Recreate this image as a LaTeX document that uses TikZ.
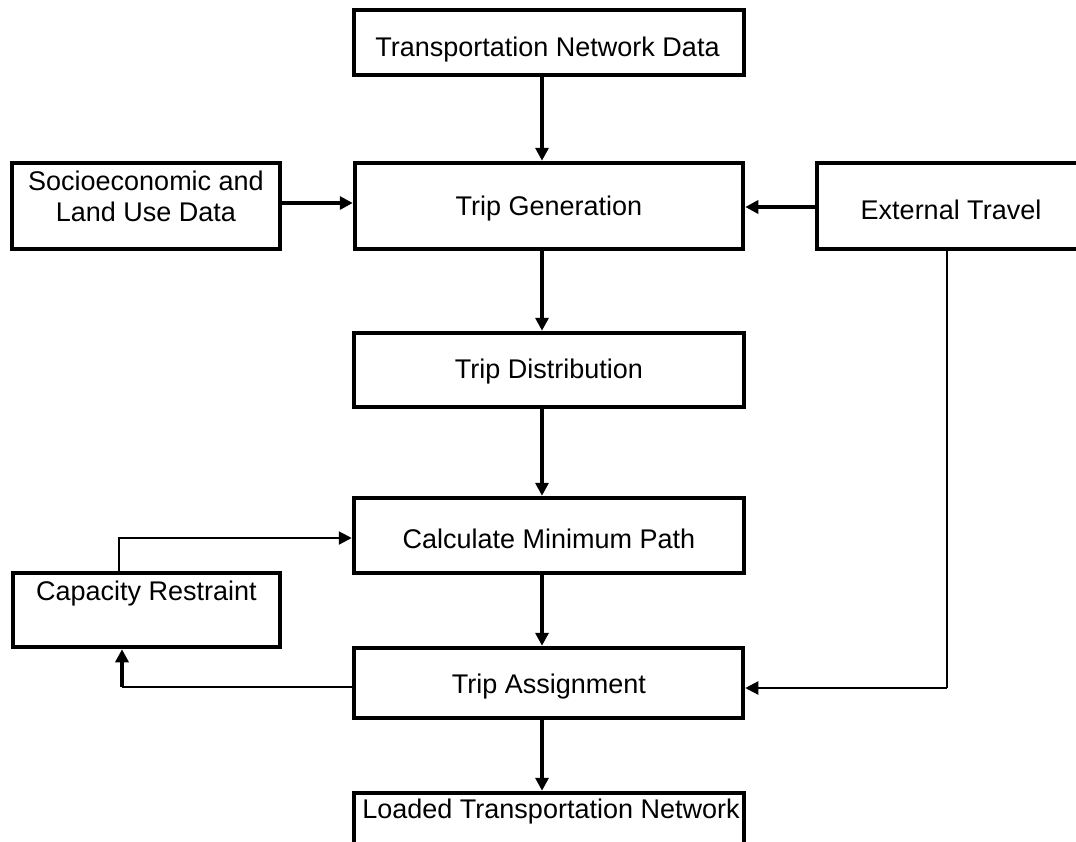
\documentclass[tikz,border=0pt]{standalone}
\usepackage{fontspec}
\setmainfont{Liberation Sans}
\usetikzlibrary{arrows.meta}
\begin{document}
\begin{tikzpicture}[x=1pt,y=-1pt,
  box/.style={draw, line width=4.5pt, inner sep=0pt},
  txt/.style={inner sep=0pt, font=\fontsize{27}{31}\selectfont, align=center},
  flow/.style={line width=3.4pt, -{Triangle[length=13pt,width=13pt]}},
  loop/.style={line width=2.2pt, -{Triangle[length=13pt,width=13pt]}},
  thinline/.style={line width=1.6pt}]
\useasboundingbox (0,0) rectangle (1076,841);
\clip (0,0) rectangle (1076,841);
% boxes
\node[box, minimum width=390pt, minimum height=65pt] (tnd) at (549,42.5) {};
\node[box, minimum width=268pt, minimum height=86pt] (socio) at (146,206) {};
\node[box, minimum width=388pt, minimum height=86pt] (tg) at (549,206) {};
\node[box, minimum width=268pt, minimum height=86pt] (et) at (951,206) {};
\node[box, minimum width=390pt, minimum height=74pt] (td) at (549,370) {};
\node[box, minimum width=390pt, minimum height=75pt] (cmp) at (549,535.5) {};
\node[box, minimum width=267pt, minimum height=74pt] (cap) at (146.5,610) {};
\node[box, minimum width=389pt, minimum height=70pt] (ta) at (548.5,683) {};
\node[box, minimum width=390pt, minimum height=80pt] (ld) at (549,833) {};
% texts
\node[txt] (tndt) at (547.5,50) {Transportation Network Data};
\node[txt] (sociot) at (146,196.5) {Socioeconomic and\\Land Use Data};
\node[txt] (tgt) at (549,209) {Trip Generation};
\node[txt] (ett) at (951,210) {External Travel};
\node[txt] (tdt) at (549,372) {Trip Distribution};
\node[txt] (cmpt) at (549,539) {Calculate Minimum Path};
\node[txt] (capt) at (146.5,594) {Capacity Restraint};
\node[txt] (tat) at (549,687) {Trip Assignment};
\node[txt] (ldt) at (551,812) {Loaded Transportation Network};
% helper levels
\coordinate (ax) at (542,0);
\coordinate (ysoc) at (0,203);
\coordinate (yet) at (0,207);
\coordinate (yloop) at (0,538);
\coordinate (c2) at (122,687);
\coordinate (c3) at (947,688);
% main flow
\draw[flow] (tnd.south -| ax) -- (tg.north -| ax);
\draw[flow] (tg.south -| ax) -- (td.north -| ax);
\draw[flow] (td.south -| ax) -- (cmp.north -| ax);
\draw[flow] (cmp.south -| ax) -- (ta.north -| ax);
\draw[flow] (ta.south -| ax) -- (ld.north -| ax);
\draw[flow] (socio.east |- ysoc) -- (tg.west |- ysoc);
\draw[flow] (et.west |- yet) -- (tg.east |- yet);
% capacity loop
\draw[loop] ([xshift=-27.5pt]cap.north) |- (cmp.west |- yloop);
\draw[thinline] (ta.west |- c2) -- (c2);
\draw[flow] (c2) -- (c2 |- cap.south);
% external travel to trip assignment
\draw[line width=2.2pt] (et.south -| c3) -- (c3);
\draw[loop] (c3) -- (c3 -| ta.east);
\end{tikzpicture}
\end{document}
